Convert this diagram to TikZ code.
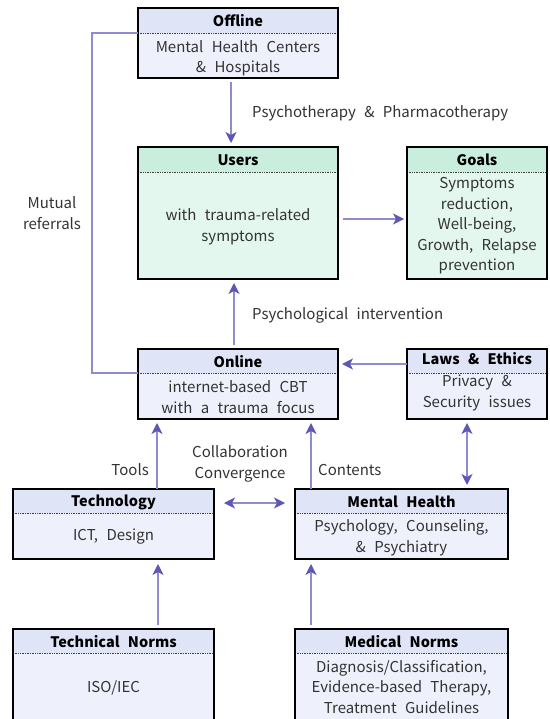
\documentclass[tikz,border=0pt]{standalone}
\usepackage{fontspec}
\setmainfont{Noto Sans CJK KR}[WordSpace=2.5]
\usetikzlibrary{arrows.meta,calc,fit}
\definecolor{headB}{HTML}{DFE4F6}
\definecolor{bodyB}{HTML}{EEF1FB}
\definecolor{headG}{HTML}{C9EEDD}
\definecolor{bodyG}{HTML}{E3F7EE}
\definecolor{lineC}{HTML}{8F8BD3}
\definecolor{tipC}{HTML}{5F57B5}
\definecolor{txtC}{HTML}{333333}
\tikzset{
  boxline/.style={line width=2.6pt, draw=black},
  divline/.style={densely dotted, line width=0.7pt, draw=black!75},
  boxfit/.style={inner sep=0pt, outer sep=0pt},
  headtxt/.style={font=\fontsize{14.5}{20}\selectfont\bfseries, text=black, inner sep=0pt},
  bodytxt/.style={font=\fontsize{15}{20.5}\selectfont, text=txtC, align=center, inner sep=0pt},
  lbl/.style={font=\fontsize{15}{20.5}\selectfont, text=txtC, align=center, inner sep=0pt},
  conn/.style={line width=1.2pt, draw=lineC, -{Stealth[length=11pt,width=11pt,inset=3pt,color=tipC]}},
  dconn/.style={line width=1.2pt, draw=lineC, {Stealth[length=11pt,width=11pt,inset=3pt,color=tipC]}-{Stealth[length=11pt,width=11pt,inset=3pt,color=tipC]}},
  plain/.style={line width=1.2pt, draw=lineC}
}
% name, x1, y1, x2, y2, divider y, header colour, body colour
\newcommand\dbox[8]{%
  \fill[#8] (#2,#3) rectangle (#4,#5);
  \fill[#7] (#2,#3) rectangle (#4,#6);
  \draw[divline] (#2,#6) -- (#4,#6);
  \draw[boxline] (#2,#3) rectangle (#4,#5);
  \node[boxfit, fit={(#2,#3) (#4,#5)}] (#1) {};
}
\begin{document}
\begin{tikzpicture}[x=1pt,y=-1pt]
\useasboundingbox (0,0) rectangle (549,719);
\fill[white] (0,0) rectangle (549,719);

\dbox{off}{138}{8}{338}{78}{33}{headB}{bodyB}
\dbox{users}{138}{147}{338}{279}{172}{headG}{bodyG}
\dbox{goals}{407}{147}{547}{279}{172}{headG}{bodyG}
\dbox{online}{138}{349}{338}{419}{373}{headB}{bodyB}
\dbox{laws}{407}{349}{547}{419}{373}{headB}{bodyB}
\dbox{tech}{13}{489}{214}{559}{513}{headB}{bodyB}
\dbox{mh}{295}{489}{508}{559}{513}{headB}{bodyB}
\dbox{tnorm}{13}{629}{214}{735}{653}{headB}{bodyB}
\dbox{mnorm}{295}{629}{508}{735}{653}{headB}{bodyB}

% box texts
\node[headtxt] (off-h) at (238,21) {Offline};
\node[bodytxt] (off-b) at (238,58) {Mental Health Centers\\\& Hospitals};
\node[headtxt] (users-h) at (238,160) {Users};
\node[bodytxt] (users-b) at (238,227) {with trauma-related\\symptoms};
\node[headtxt] (goals-h) at (477,160) {Goals};
\node[bodytxt] (goals-b) at (477,226) {Symptoms\\reduction,\\Well-being,\\Growth, Relapse\\prevention};
\node[headtxt] (online-h) at (238,362) {Online};
\node[bodytxt] (online-b) at (238,397) {internet-based CBT\\with a trauma focus};
\node[headtxt] (laws-h) at (477,359) {Laws \& Ethics};
\node[bodytxt] (laws-b) at (477,393) {Privacy \&\\Security issues};
\node[headtxt] (tech-h) at (113.5,502) {Technology};
\node[bodytxt] (tech-b) at (113.5,537) {ICT, Design};
\node[headtxt] (mh-h) at (401.5,502) {Mental Health};
\node[bodytxt] (mh-b) at (401.5,538) {Psychology, Counseling,\\\& Psychiatry};
\node[headtxt] (tnorm-h) at (113.5,642) {Technical Norms};
\node[bodytxt] (tnorm-b) at (113.5,688) {ISO/IEC};
\node[headtxt] (mnorm-h) at (401.5,642) {Medical Norms};
\node[bodytxt] (mnorm-b) at (401.5,687) {Diagnosis/Classification,\\Evidence-based Therapy,\\Treatment Guidelines};

% labels
\node[lbl, anchor=west] (l-psy) at (252,113) {Psychotherapy \& Pharmacotherapy};
\node[lbl, anchor=west] (l-int) at (252,315) {Psychological intervention};
\node[lbl] (l-mut) at (52,213) {Mutual\\referrals};
\node[lbl] (l-col) at (240,464) {Collaboration\\Convergence};
\node[lbl, anchor=east] (l-tools) at (149,470) {Tools};
\node[lbl, anchor=west] (l-cont) at (318,470) {Contents};

% connectors
\draw[conn] ($(off.south)+(-7,4)$) -- ($(users.north)+(-7,-4)$);
\draw[conn] ($(online.north)+(-4,-4)$) -- ($(users.south)+(-4,4)$);
\draw[conn] ($(users.east)+(5,6)$) -- ($(goals.west)+(-3,6)$);
\draw[conn] ($(laws.west)+(0,-20)$) -- ($(online.east)+(4,-20)$);
\draw[dconn] ($(laws.south)+(-10,4)$) -- ($(laws.south |- mh.north)+(-10,-4)$);
\draw[conn] ($(tech.north)+(43.5,0)$) -- ($(tech.north |- online.south)+(43.5,4)$);
\draw[conn] ($(mh.north)+(-90.5,0)$) -- ($(mh.north |- online.south)+(-90.5,4)$);
\draw[dconn] ($(tech.east)+(10,-21)$) -- ($(mh.west)+(-10,-21)$);
\draw[conn] ($(tnorm.north)+(44.5,-4)$) -- ($(tech.south)+(44.5,5)$);
\draw[conn] ($(mnorm.north)+(-90.5,-4)$) -- ($(mh.south)+(-90.5,5)$);
\draw[plain] ($(off.west)+(0,-10)$) -- ++(-46,0) |- ($(online.west)+(0,-11)$);
\end{tikzpicture}
\end{document}
